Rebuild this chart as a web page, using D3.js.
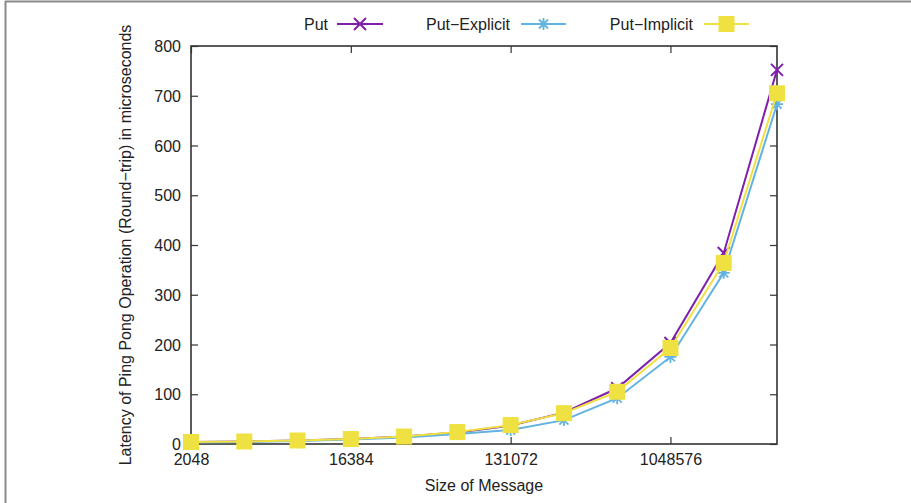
<!DOCTYPE html>
<html><head><meta charset="utf-8">
<script src="https://cdn.jsdelivr.net/npm/d3@7"></script>
<style>body{margin:0;background:#fff}svg{display:block}text{font-family:"Liberation Sans",Arial,sans-serif;fill:#222}</style>
</head><body>
<svg id="c" width="911" height="503"></svg>
<script>
const sizes = [2048,4096,8192,16384,32768,65536,131072,262144,524288,1048576,2097152,4194304];
const putVals = [4,5,7,10,15,23,37,63,112,203,384,752];
const explicitVals = [3,4,6,9,13,20,28,48,92,175,344,683];
const implicitVals = [4,5,7,10,15,24,38,62,105,193,364,705];
const seriesNames = ["Put","Put\u2212Explicit","Put\u2212Implicit"];
const xTicks = [2048,16384,131072,1048576];
const yTicks = [0,100,200,300,400,500,600,700,800];

const colors = ["#7e1fad","#62b2e2","#efe142"];
const FS = "16px";
const svg = d3.select("#c");
const L=191, R=777, T=46, B=444;
const x = d3.scaleLog().base(2).domain([2048,4194304]).range([L,R]);
const y = d3.scaleLinear().domain([0,800]).range([B,T]);

// outer frame (top/left)
svg.append("line").attr("x1",5).attr("x2",911).attr("y1",1.5).attr("y2",1.5).attr("stroke","#8a8a8a").attr("stroke-width",2);
svg.append("line").attr("x1",5.5).attr("x2",5.5).attr("y1",1).attr("y2",503).attr("stroke","#8a8a8a").attr("stroke-width",2);

const axisCol="#333";
const gx = svg.append("g").attr("transform",`translate(0,${B})`)
  .call(d3.axisBottom(x).tickValues(xTicks).tickFormat(d=>d).tickSizeInner(-7).tickSizeOuter(0).tickPadding(10));
const gxt = svg.append("g").attr("transform",`translate(0,${T})`)
  .call(d3.axisTop(x).tickValues(xTicks).tickFormat("").tickSizeInner(-7).tickSizeOuter(0));
const gy = svg.append("g").attr("transform",`translate(${L},0)`)
  .call(d3.axisLeft(y).tickValues(yTicks).tickSizeInner(-7).tickSizeOuter(0).tickPadding(10));
const gyr = svg.append("g").attr("transform",`translate(${R},0)`)
  .call(d3.axisRight(y).tickValues(yTicks).tickFormat("").tickSizeInner(-7).tickSizeOuter(0));
[gx,gxt,gy,gyr].forEach(g=>{
  g.selectAll(".domain").remove();
  g.selectAll("line").attr("stroke",axisCol).attr("stroke-width",1.2);
  g.selectAll("text").style("font-size",FS).attr("fill","#222").style("font-family","Liberation Sans, Arial, sans-serif");
});
gy.selectAll("text").attr("dy","0.35em");
svg.append("rect").attr("x",L).attr("y",T).attr("width",R-L).attr("height",B-T)
  .attr("fill","none").attr("stroke",axisCol).attr("stroke-width",1.6);

// titles
svg.append("text").attr("x",(L+R)/2).attr("y",491).attr("text-anchor","middle").style("font-size",FS).text("Size of Message");
svg.append("text").attr("transform",`translate(131,${(T+B)/2}) rotate(-90)`).attr("text-anchor","middle").style("font-size",FS)
  .text("Latency of Ping Pong Operation (Round\u2212trip) in microseconds");

const all = [putVals,explicitVals,implicitVals];
const line = d3.line().x((d,i)=>x(sizes[i])).y(d=>y(d));

function marker(g,k,cx,cy){
  const c=colors[k];
  if(k===0){
    const s=6;
    g.append("path").attr("d",`M${cx-s},${cy-s}L${cx+s},${cy+s}M${cx-s},${cy+s}L${cx+s},${cy-s}`).attr("stroke",c).attr("stroke-width",2).attr("fill","none");
  } else if(k===1){
    const s=6;
    g.append("path").attr("d",`M${cx-s},${cy}L${cx+s},${cy}M${cx},${cy-s}L${cx},${cy+s}M${cx-s*0.75},${cy-s*0.75}L${cx+s*0.75},${cy+s*0.75}M${cx-s*0.75},${cy+s*0.75}L${cx+s*0.75},${cy-s*0.75}`).attr("stroke",c).attr("stroke-width",1.8).attr("fill","none");
  } else {
    const s=8;
    g.append("rect").attr("x",cx-s).attr("y",cy-s).attr("width",2*s).attr("height",2*s).attr("fill",c);
  }
}

all.forEach((vals,k)=>{
  const g = svg.append("g");
  g.append("path").datum(vals).attr("d",line).attr("fill","none").attr("stroke",colors[k]).attr("stroke-width",2);
  vals.forEach((v,i)=>marker(g,k,x(sizes[i]),y(v)));
});

// legend
const legTextEnd=[328,510,693], legLine=[[337,383],[521,566],[704,749]];
const ly=24;
seriesNames.forEach((n,k)=>{
  svg.append("text").attr("x",legTextEnd[k]).attr("y",ly).attr("dy","0.35em").attr("text-anchor","end").style("font-size",FS).text(n);
  svg.append("line").attr("x1",legLine[k][0]).attr("x2",legLine[k][1]).attr("y1",ly).attr("y2",ly).attr("stroke",colors[k]).attr("stroke-width",2);
  const g=svg.append("g");
  marker(g,k,(legLine[k][0]+legLine[k][1])/2,ly);
});
</script>
</body></html>
